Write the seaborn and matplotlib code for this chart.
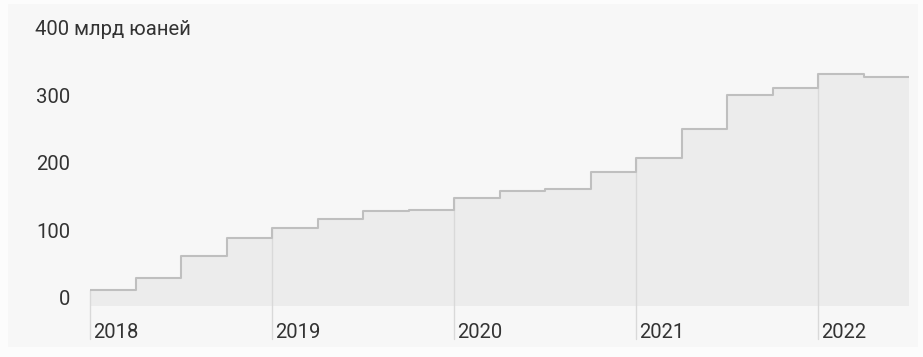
import matplotlib
matplotlib.use("Agg")
import matplotlib.pyplot as plt
import matplotlib.patches as mpatches
import seaborn as sns
import pandas as pd
import numpy as np

# Data: quarterly values, billion yuan (2018Q1 .. 2022Q2)
quarters = ["2018Q1", "2018Q2", "2018Q3", "2018Q4",
            "2019Q1", "2019Q2", "2019Q3", "2019Q4",
            "2020Q1", "2020Q2", "2020Q3", "2020Q4",
            "2021Q1", "2021Q2", "2021Q3", "2021Q4",
            "2022Q1", "2022Q2"]
values = [14, 32, 65, 91,
          106, 119, 131, 133,
          150, 161, 163, 189,
          210, 252, 303, 314,
          334, 329]
year_labels = ["2018", "2019", "2020", "2021", "2022"]
y_ticks = [0, 100, 200, 300]
top_label = "400 млрд юаней"

sns.set_theme(style="white")
plt.rcParams["font.family"] = ["Roboto", "DejaVu Sans"]

W, H, DPI = 923, 357, 100
fig = plt.figure(figsize=(W / DPI, H / DPI), dpi=DPI)
fig.patch.set_facecolor("#fcfcfc")
fig.patches.append(mpatches.Rectangle((8 / W, 1 - 347 / H), (918 - 8) / W, (347 - 4) / H,
                                      transform=fig.transFigure, facecolor="#f7f7f7",
                                      edgecolor="none", zorder=-10))

left, right = 90 / W, 909 / W
bottom, top = 1 - 305.6 / H, 1 - 29.5 / H
ax = fig.add_axes([left, bottom, right - left, top - bottom])
ax.set_facecolor("none")

# Convert quarter labels to fractional years
x = np.array([int(q[:4]) + (int(q[-1]) - 1) * 0.25 for q in quarters])
df = pd.DataFrame({"x": np.append(x, x[-1] + 0.25), "y": values + [values[-1]]})

ymin, ymax = -9, 400
ax.fill_between(df["x"], ymin, df["y"], step="post", color="#ececec", linewidth=0, zorder=1)
sns.lineplot(data=df, x="x", y="y", drawstyle="steps-post", color="#bfbfbf",
             linewidth=1.5, ax=ax, zorder=3)

# Year separator lines
line_bottom = -58.5
fs = 14.6
for yl in year_labels:
    yr = int(yl)
    val = df.loc[np.isclose(df["x"], yr), "y"].iloc[0]
    ax.plot([yr, yr], [line_bottom, val], color="#d9d9d9", linewidth=1.0,
            clip_on=False, zorder=2)
    ax.text(yr + 0.018, -49, yl, ha="left", va="center", fontsize=fs, color="#333333")

ax.set_xlim(x[0], x[-1] + 0.25)
ax.set_ylim(ymin, ymax)
ax.set_xticks([])
ax.set_yticks([])
for s in ax.spines.values():
    s.set_visible(False)
ax.set_xlabel("")
ax.set_ylabel("")

ytr = ax.get_yaxis_transform()
for t in y_ticks:
    ax.text(-0.0244, t, str(t), transform=ytr, ha="right", va="center",
            fontsize=fs, color="#333333")
ax.text(-0.0672, 400, top_label, transform=ytr, ha="left", va="center",
        fontsize=fs, color="#333333")

fig.savefig("out.png", dpi=DPI, facecolor=fig.get_facecolor())
